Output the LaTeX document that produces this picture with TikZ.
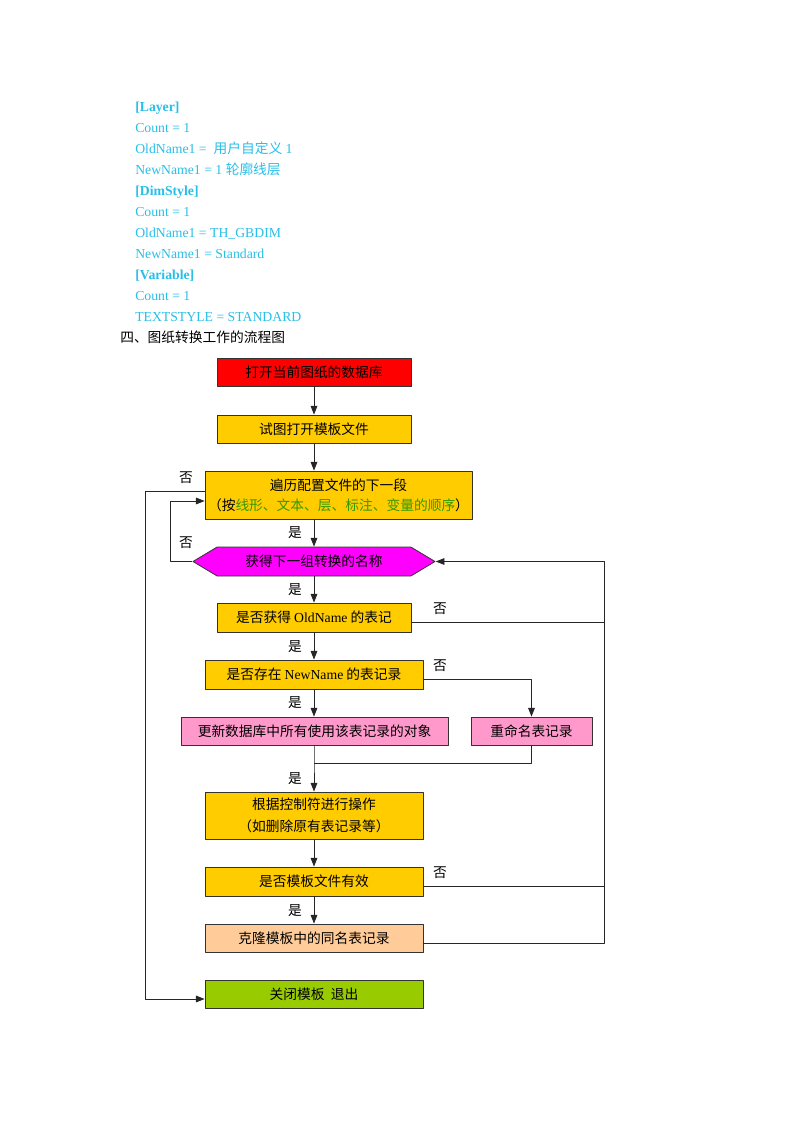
\documentclass[tikz,border=0pt]{standalone}
\usepackage{fontspec}
\setmainfont{Liberation Serif}
\newfontfamily\cjk{Noto Sans CJK SC}
\usetikzlibrary{arrows.meta,shapes.symbols}
\definecolor{cfgblue}{RGB}{41,190,232}
\definecolor{fillred}{RGB}{255,0,0}
\definecolor{fillgold}{RGB}{255,204,0}
\definecolor{fillmag}{RGB}{255,0,255}
\definecolor{fillpink}{RGB}{255,153,204}
\definecolor{fillpeach}{RGB}{255,204,153}
\definecolor{fillgreen}{RGB}{153,204,0}
\definecolor{txtgreen}{RGB}{51,153,0}
\tikzset{
  box/.style={draw=black!80,line width=0.6pt,inner sep=0pt,minimum height=21pt,
    align=center,font=\cjk\fontsize{10.3}{15}\selectfont},
  hexa/.style={box,shape=signal,signal to=east and west,signal pointer angle=62,
    fill=fillmag},
  cfgline/.style={anchor=base west,inner sep=0pt,text=cfgblue,font=\fontsize{10.3}{12}\selectfont},
  yesno/.style={inner sep=0pt,font=\cjk\fontsize{10.3}{12}\selectfont},
  link/.style={line width=0.65pt,draw=black!85}
}
\begin{document}
\begin{tikzpicture}[x=0.75pt,y=-0.75pt,line join=round,>={Triangle[length=6.5pt,width=5pt]}]
  \useasboundingbox (0,0) rectangle (800,1132);
  %%Cấu hình
  \foreach \s [count=\i] in {\textbf{[Layer]},Count = 1,{OldName1 = \ {\cjk 用户自定义} 1},
      {NewName1 = 1 {\cjk 轮廓线层}},\textbf{[DimStyle]},Count = 1,OldName1 = TH\_GBDIM,
      NewName1 = Standard,\textbf{[Variable]},Count = 1,TEXTSTYLE = STANDARD}{
    \node[cfgline] (cfg\i) at (135,90.5+21*\i) {\s};
  }
  \node[cfgline,text=black,font=\cjk\fontsize{10.3}{12}\selectfont] (title) at (120,342.5) {四、图纸转换工作的流程图};
  %%Điểm
  \path (145,0) coordinate (L1) (170,0) coordinate (L2) (604,0) coordinate (R) (314,763) coordinate (J);
  %%Khung
  \node[box,fill=fillred,minimum width=145.5pt] (open) at (314,372) {打开当前图纸的数据库};
  \node[box,fill=fillgold,minimum width=145.5pt] (tmpl) at (314,429) {试图打开模板文件};
  \node[box,fill=fillgold,minimum width=200.25pt,minimum height=36pt] (seg) at (338.5,495)
    {遍历配置文件的下一段\\（按\textcolor{txtgreen}{线形、文本、层、标注、变量的顺序}）};
  \node[hexa,minimum width=181.5pt,minimum height=21.75pt] (name) at (314,561.5) {获得下一组转换的名称};
  \node[box,fill=fillgold,minimum width=145.5pt,minimum height=21.75pt] (old) at (314,617.5)
    {是否获得 {\rmfamily OldName} 的表记};
  \node[box,fill=fillgold,minimum width=163.5pt,minimum height=21.75pt] (new) at (314,674.5)
    {是否存在 {\rmfamily NewName} 的表记录};
  \node[box,fill=fillpink,minimum width=200.25pt] (upd) at (314.5,731) {更新数据库中所有使用该表记录的对象};
  \node[box,fill=fillpink,minimum width=90.75pt] (ren) at (531.5,731) {重命名表记录};
  \node[box,fill=fillgold,minimum width=163.5pt,minimum height=35.25pt,
    font=\cjk\fontsize{10.3}{16.5}\selectfont] (ctrl) at (314,815.5) {根据控制符进行操作\\（如删除原有表记录等）};
  \node[box,fill=fillgold,minimum width=163.5pt,minimum height=21.75pt] (valid) at (314,881.5) {是否模板文件有效};
  \node[box,fill=fillpeach,minimum width=163.5pt] (clone) at (314,938) {克隆模板中的同名表记录};
  \node[box,fill=fillgreen,minimum width=163.5pt] (close) at (314,994) {关闭模板\ \ 退出};
  %%Nối
  \draw[link,->] (open) -- (tmpl);
  \draw[link,->] (tmpl.south) -- (tmpl.south |- seg.north);
  \draw[link,->] (name.north |- seg.south) -- (name.north);
  \draw[link,->] (name.west) -- (name.west -| L2) |- ([yshift=-4.5pt]seg.west);
  \draw[link,->] ([yshift=3pt]seg.west) -- ([yshift=3pt]seg.west -| L1) |- ([yshift=-3.75pt]close.west);
  \draw[link,->] (name.south) -- (old.north);
  \draw[link] ([yshift=-3.5pt]old.east) -- ([yshift=-3.5pt]old.east -| R);
  \draw[link,->] (old.south) -- (new.north);
  \draw[link,->] ([yshift=-3.5pt]new.east) -| (ren.north);
  \draw[link,->] (new.south) -- (new.south |- upd.north);
  \draw[link] (ren.south) |- (J);
  \draw[link,->] (new.south |- upd.south) -- (J) -- (J |- ctrl.north);
  \draw[link,->] (ctrl) -- (valid);
  \draw[link] ([yshift=-3.5pt]valid.east) -- ([yshift=-3.5pt]valid.east -| R);
  \draw[link,->] (valid) -- (clone);
  \draw[link,->] ([yshift=-3.75pt]clone.east) -- ([yshift=-3.75pt]clone.east -| R) -- (name.east -| R) -- (name.east);
  %%Nhãn
  \foreach \x/\y/\t [count=\i] in {295/533/是,295/590/是,295/647/是,295/703/是,295/779/是,295/911/是,
      186/478/否,186/543/否,440/609/否,440/666/否,440/873/否}{
    \node[yesno] (lab\i) at (\x,\y) {\t};
  }
\end{tikzpicture}
\end{document}
